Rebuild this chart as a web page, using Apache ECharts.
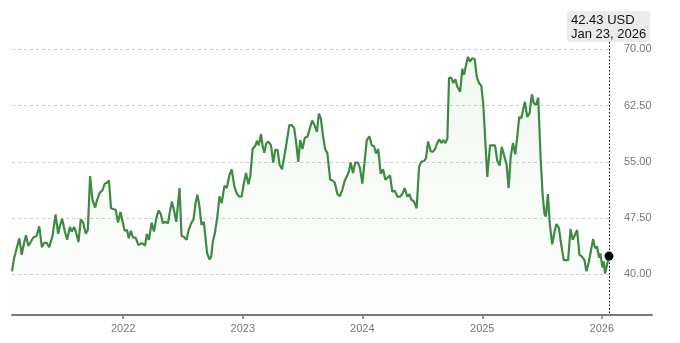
<!DOCTYPE html>
<html><head><meta charset="utf-8">
<script src="https://cdn.jsdelivr.net/npm/echarts@6.0.0/dist/echarts.min.js"></script>
<style>html,body{margin:0;padding:0;background:#fff}#c{width:680px;height:343px}</style>
</head><body><div id="c"></div>
<script>
// x: dates as decimal years, y: closing prices in USD
const dates = [
2021.070,2021.087,2021.103,2021.131,2021.151,2021.170,2021.187,2021.206,2021.226,2021.248,
2021.262,2021.276,2021.298,2021.320,2021.339,2021.359,2021.381,2021.409,2021.434,2021.456,
2021.470,2021.489,2021.512,2021.531,2021.554,2021.570,2021.590,2021.604,2021.626,2021.645,
2021.665,2021.687,2021.704,2021.723,2021.743,2021.765,2021.781,2021.804,2021.826,2021.846,
2021.865,2021.881,2021.898,2021.937,2021.957,2021.977,2021.993,2022.012,2022.032,2022.046,
2022.065,2022.082,2022.104,2022.127,2022.146,2022.165,2022.182,2022.198,2022.215,2022.238,
2022.257,2022.277,2022.296,2022.313,2022.332,2022.352,2022.374,2022.390,2022.407,2022.424,
2022.444,2022.471,2022.488,2022.507,2022.530,2022.549,2022.571,2022.588,2022.605,2022.621,
2022.638,2022.655,2022.674,2022.702,2022.721,2022.736,2022.749,2022.763,2022.786,2022.805,
2022.824,2022.846,2022.866,2022.888,2022.907,2022.930,2022.952,2022.972,2022.991,2023.007,
2023.027,2023.047,2023.063,2023.082,2023.103,2023.119,2023.133,2023.153,2023.166,2023.180,
2023.197,2023.216,2023.236,2023.255,2023.272,2023.291,2023.308,2023.328,2023.347,2023.366,
2023.389,2023.411,2023.430,2023.447,2023.464,2023.480,2023.499,2023.519,2023.541,2023.555,
2023.580,2023.597,2023.620,2023.636,2023.653,2023.670,2023.689,2023.708,2023.731,2023.750,
2023.770,2023.791,2023.811,2023.833,2023.853,2023.875,2023.889,2023.903,2023.922,2023.941,
2023.964,2023.981,2024.000,2024.020,2024.037,2024.058,2024.078,2024.097,2024.114,2024.133,
2024.153,2024.173,2024.192,2024.208,2024.231,2024.250,2024.270,2024.292,2024.314,2024.333,
2024.353,2024.375,2024.392,2024.408,2024.431,2024.453,2024.473,2024.492,2024.514,2024.531,
2024.548,2024.570,2024.589,2024.606,2024.625,2024.642,2024.659,2024.675,2024.692,2024.709,
2024.723,2024.742,2024.759,2024.776,2024.792,2024.815,2024.834,2024.848,2024.865,2024.881,
2024.898,2024.915,2024.937,2024.954,2024.973,2024.992,2025.009,2025.023,2025.042,2025.065,
2025.087,2025.107,2025.126,2025.146,2025.163,2025.182,2025.204,2025.221,2025.238,2025.257,
2025.276,2025.293,2025.309,2025.326,2025.343,2025.357,2025.376,2025.396,2025.415,2025.432,
2025.451,2025.468,2025.488,2025.505,2025.521,2025.532,2025.549,2025.565,2025.585,2025.605,
2025.621,2025.641,2025.660,2025.682,2025.701,2025.718,2025.738,2025.757,2025.774,2025.793,
2025.813,2025.835,2025.855,2025.871,2025.891,2025.910,2025.927,2025.943,2025.960,2025.977,
2025.988,2026.005,2026.016,2026.027,2026.060
];
const prices = [
40.4,42.1,43.1,44.8,42.6,44.1,45.2,43.8,44.3,44.9,
44.7,45.1,46.4,43.6,44.2,44.2,43.6,45.1,48.0,45.4,
46.4,47.4,45.7,44.6,46.3,45.7,46.3,45.7,44.3,47.3,
46.9,45.4,45.9,53.1,49.9,48.9,49.9,50.9,51.2,52.1,
52.2,52.5,48.8,48.6,46.9,48.3,48.3,45.8,45.9,44.8,
45.8,44.9,44.9,43.9,44.1,44.1,43.8,45.4,44.6,46.9,
45.7,47.5,48.5,48.1,46.8,47.0,46.8,48.3,49.7,48.6,
47.0,51.5,45.1,45.0,44.6,46.0,46.9,47.3,49.5,50.6,
49.0,46.6,47.0,42.8,42.0,42.35,44.35,45.2,47.5,50.4,
49.5,51.8,51.5,53.2,54.0,51.7,50.7,50.35,50.4,52.0,
53.5,52.0,53.1,56.7,57.1,57.8,57.2,58.7,57.1,56.2,
57.5,57.7,57.2,54.9,56.6,56.6,54.6,54.0,55.7,57.5,
59.9,59.9,59.5,57.5,55.0,57.9,56.7,58.2,58.35,58.3,
60.5,60.0,59.0,61.4,60.8,58.6,56.7,56.1,52.6,52.5,
52.2,50.7,50.4,51.3,52.5,53.2,53.8,54.9,53.5,54.9,
54.9,54.1,52.1,55.2,57.9,58.4,57.2,57.1,56.1,56.7,
53.4,54.0,52.6,52.4,53.2,51.0,51.15,50.35,50.35,50.7,
51.5,50.35,50.7,50.0,49.7,48.8,54.35,55.0,55.1,55.5,
57.7,56.4,56.35,56.7,57.5,58.0,57.5,57.9,57.5,58.1,
66.2,66.2,65.5,66.0,65.0,64.35,67.4,66.6,67.9,69.0,
68.35,68.8,68.7,66.35,65.5,65.15,62.6,62.7,53.0,57.2,
57.2,57.2,55.1,54.5,57.0,55.9,54.6,51.5,55.7,57.5,
56.0,58.35,61.0,60.8,62.05,63.0,61.0,61.5,64.0,62.8,
62.6,63.55,55.5,50.6,48.0,47.7,50.7,46.7,44.0,45.7,
46.7,46.2,44.0,41.9,41.9,41.9,46.05,44.6,45.2,45.9,
42.6,42.35,41.9,40.4,41.6,43.25,44.7,43.5,43.7,42.2,
42.8,40.9,41.7,40.1,42.43
];
const yTicks = [40, 47.5, 55, 62.5, 70];
const lastDateLabel = 'Jan 23, 2026';
const currency = 'USD';

function yearToTime(y) {
  const Y = Math.floor(y);
  const a = Date.UTC(Y, 0, 1), b = Date.UTC(Y + 1, 0, 1);
  return a + (y - Y) * (b - a);
}
const times = dates.map(yearToTime);
const seriesData = times.map((t, i) => [t, prices[i]]);
const t0 = times[0], t1 = times[times.length - 1];
const lastPrice = prices[prices.length - 1];

// layout (pixels)
const W = 680, H = 343;
const PLOT_L = 12, PLOT_R = 609, AXIS_R = 652;
const Y_TOP = 49.3, Y_40 = 274.3;
const AXIS_Y = 315;
const step = yTicks[1] - yTicks[0];
const yMin = yTicks[0] - step;
const yMax = yTicks[yTicks.length - 1];
const pxPerUnit = (Y_40 - Y_TOP) / (yMax - yTicks[0]);
const gridBottomPx = Y_40 + step * pxPerUnit;
const tMaxAxis = t0 + (t1 - t0) * (AXIS_R - PLOT_L) / (PLOT_R - PLOT_L);

const FONT = '"Liberation Sans", Arial, Helvetica, sans-serif';
const chart = echarts.init(document.getElementById('c'), null, {renderer: 'canvas', width: W, height: H});

const gridColors = yTicks.map(() => '#cfcfcf');
gridColors.unshift('rgba(0,0,0,0)');

chart.setOption({
  animation: false,
  backgroundColor: '#ffffff',
  textStyle: {fontFamily: FONT},
  grid: [
    {left: PLOT_L, right: W - PLOT_R, top: Y_TOP, bottom: H - gridBottomPx, containLabel: false},
    {left: PLOT_L, right: W - AXIS_R, top: Y_TOP, bottom: H - AXIS_Y, containLabel: false}
  ],
  xAxis: [
    {type: 'time', gridIndex: 0, min: t0, max: t1, show: false},
    {type: 'time', gridIndex: 1, min: t0, max: tMaxAxis,
     minInterval: 365 * 24 * 3600 * 1000, splitNumber: 5,
     axisLine: {show: true, lineStyle: {color: '#7a7a7a', width: 2}},
     axisTick: {show: true, length: 4, lineStyle: {color: '#7a7a7a', width: 1.5}},
     axisLabel: {formatter: '{yyyy}', color: '#777', fontSize: 11, margin: 8, fontFamily: FONT},
     splitLine: {show: false}}
  ],
  yAxis: [
    {type: 'value', gridIndex: 0, position: 'right', min: yMin, max: yMax, interval: step,
     axisLine: {show: false}, axisTick: {show: false},
     axisLabel: {formatter: v => v.toFixed(2), color: '#777', fontSize: 11, margin: 15,
                 showMinLabel: false, fontFamily: FONT},
     splitLine: {show: true, lineStyle: {type: [3, 3], color: gridColors, width: 1}}},
    {type: 'value', gridIndex: 1, min: 0, max: 1, show: false}
  ],
  series: [
    {type: 'line', xAxisIndex: 0, yAxisIndex: 0, data: seriesData,
     symbol: 'none', showSymbol: false, smooth: false, z: 3,
     lineStyle: {color: '#3d8b40', width: 2.2},
     areaStyle: {color: new echarts.graphic.LinearGradient(0, 0, 0, 1, [
        {offset: 0, color: 'rgba(61,139,64,0.10)'},
        {offset: 1, color: 'rgba(61,139,64,0)'}])}},
    {type: 'scatter', xAxisIndex: 0, yAxisIndex: 0, data: [[t1, lastPrice]],
     symbol: 'circle', symbolSize: 9, z: 6, itemStyle: {color: '#000', opacity: 1}}
  ]
});

const p = chart.convertToPixel({xAxisIndex: 0, yAxisIndex: 0}, [t1, lastPrice]);
const axisPx = chart.convertToPixel({xAxisIndex: 1, yAxisIndex: 1}, [t1, 0]);
const lineX = Math.round(p[0]) + 0.5;
const BOX_TOP = 11, BOX_H = 31;
chart.setOption({
  graphic: [
    {type: 'line', z: 1, silent: true,
     shape: {x1: lineX, y1: BOX_TOP + BOX_H, x2: lineX, y2: axisPx[1]},
     style: {stroke: '#000', lineWidth: 1, lineDash: [1.5, 2]}},
    {type: 'text', z: 10, left: p[0] - 42, top: BOX_TOP, silent: true,
     style: {text: lastPrice.toFixed(2) + ' ' + currency + '\n' + lastDateLabel,
             fill: '#111', font: '13px ' + FONT, lineHeight: 14,
             backgroundColor: '#ebebeb', padding: [2, 4, 1, 4], borderRadius: 3}}
  ]
});
</script></body></html>
